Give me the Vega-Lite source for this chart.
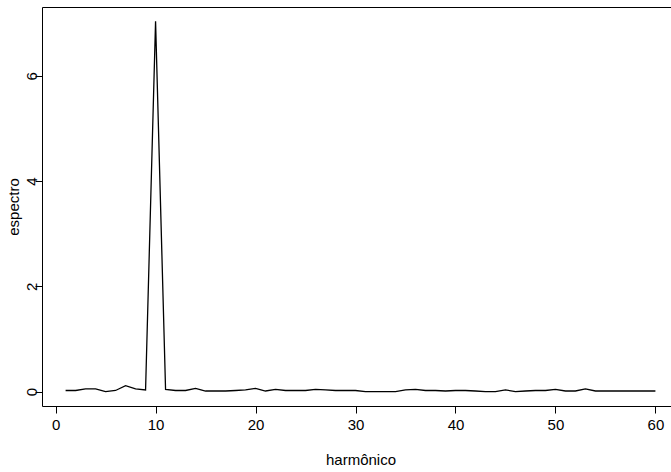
{
  "$schema": "https://vega.github.io/schema/vega-lite/v6.json",
  "width": 637,
  "height": 399,
  "autosize": {"type": "none"},
  "padding": {"left": 42, "top": 7, "right": 0, "bottom": 66},
  "background": "white",
  "config": {
    "view": {"stroke": "black", "strokeWidth": 1},
    "font": "Liberation Sans",
    "axis": {
      "domain": false,
      "grid": false,
      "tickColor": "black",
      "tickSize": 7,
      "labelColor": "black",
      "labelFontSize": 15,
      "labelFont": "Liberation Sans",
      "titleFont": "Liberation Sans",
      "titleFontSize": 15,
      "titleFontWeight": "normal",
      "titleColor": "black"
    }
  },
  "data": {
    "values": [
      {"h": 1, "s": 0.02}, {"h": 2, "s": 0.02}, {"h": 3, "s": 0.05}, {"h": 4, "s": 0.05},
      {"h": 5, "s": 0.0}, {"h": 6, "s": 0.02}, {"h": 7, "s": 0.11}, {"h": 8, "s": 0.05},
      {"h": 9, "s": 0.03}, {"h": 10, "s": 7.04}, {"h": 11, "s": 0.04}, {"h": 12, "s": 0.02},
      {"h": 13, "s": 0.02}, {"h": 14, "s": 0.06}, {"h": 15, "s": 0.01}, {"h": 16, "s": 0.01},
      {"h": 17, "s": 0.01}, {"h": 18, "s": 0.02}, {"h": 19, "s": 0.03}, {"h": 20, "s": 0.06},
      {"h": 21, "s": 0.01}, {"h": 22, "s": 0.04}, {"h": 23, "s": 0.02}, {"h": 24, "s": 0.02},
      {"h": 25, "s": 0.02}, {"h": 26, "s": 0.04}, {"h": 27, "s": 0.03}, {"h": 28, "s": 0.02},
      {"h": 29, "s": 0.02}, {"h": 30, "s": 0.02}, {"h": 31, "s": 0.0}, {"h": 32, "s": 0.0},
      {"h": 33, "s": 0.0}, {"h": 34, "s": 0.0}, {"h": 35, "s": 0.03}, {"h": 36, "s": 0.04},
      {"h": 37, "s": 0.02}, {"h": 38, "s": 0.02}, {"h": 39, "s": 0.01}, {"h": 40, "s": 0.02},
      {"h": 41, "s": 0.02}, {"h": 42, "s": 0.01}, {"h": 43, "s": 0.0}, {"h": 44, "s": 0.0},
      {"h": 45, "s": 0.03}, {"h": 46, "s": 0.0}, {"h": 47, "s": 0.01}, {"h": 48, "s": 0.02},
      {"h": 49, "s": 0.02}, {"h": 50, "s": 0.04}, {"h": 51, "s": 0.01}, {"h": 52, "s": 0.01},
      {"h": 53, "s": 0.05}, {"h": 54, "s": 0.01}, {"h": 55, "s": 0.01}, {"h": 56, "s": 0.01},
      {"h": 57, "s": 0.01}, {"h": 58, "s": 0.01}, {"h": 59, "s": 0.01}, {"h": 60, "s": 0.01}
    ]
  },
  "mark": {"type": "line", "color": "black", "strokeWidth": 1.3, "clip": true},
  "encoding": {
    "x": {
      "field": "h",
      "type": "quantitative",
      "scale": {"domain": [-1.36, 62.36], "nice": false, "zero": false},
      "axis": {"values": [0, 10, 20, 30, 40, 50, 60], "title": "harmônico", "labelPadding": 4, "titleY": 46, "labelFlush": false}
    },
    "y": {
      "field": "s",
      "type": "quantitative",
      "scale": {"domain": [-0.275, 7.31], "nice": false, "zero": false},
      "axis": {"values": [0, 2, 4, 6], "title": "espectro", "labelAngle": 270, "labelAlign": "center", "labelBaseline": "middle", "labelPadding": 4, "titleX": -21, "labelFlush": false}
    }
  }
}
